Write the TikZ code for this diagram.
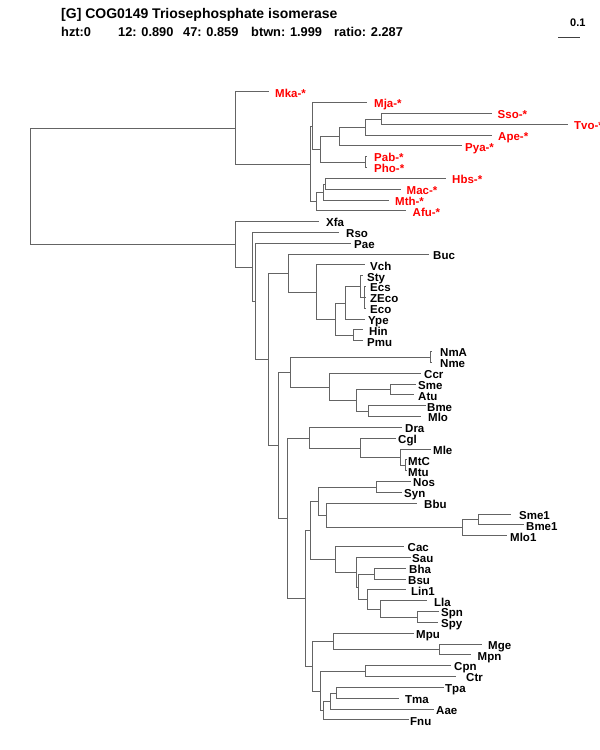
\documentclass[tikz,border=0pt]{standalone}
\usepackage{fontspec}
\setmainfont{Liberation Sans}
\usetikzlibrary{calc}
\definecolor{brc}{RGB}{100,100,100}
\definecolor{arc}{RGB}{255,0,0}
\tikzset{
  br/.style={draw=brc,line width=1.5pt,line cap=rect},
  lab/.style={font=\bfseries\fontsize{11.5}{12}\selectfont,inner sep=0pt,anchor=base west,text=black},
  labr/.style={lab,text=arc},
  hdr/.style={font=\bfseries\fontsize{14}{16}\selectfont,inner sep=0pt,anchor=base west},
  hdrs/.style={font=\bfseries\fontsize{12.8}{14}\selectfont,inner sep=0pt,anchor=base west}
}
% leaf: name, index, end x, text x, style, text
\newcommand\tleaf[6]{%
  \coordinate (#1) at ({(floor(#3)+0.5)*1pt},{-(floor(91.7+10.83*#2)+0.5)*1pt});
  \node[#5] (#1-t) at (#4pt,{-(91.7+10.83*#2+5.3)*1pt}) {#6};}
% inner node: name, x, first child, last child
\newcommand\tnode[4]{%
  \path let \p1=(#3),\p2=(#4) in coordinate (#1) at ({(floor(#2)+0.5)*1pt},{-(floor(-0.5*(\y1+\y2))+0.5)*1pt});
  \draw[br] (#1 |- #3) -- (#1 |- #4);
  \draw[br] (#1 |- #3) -- (#3);
  \draw[br] (#1 |- #4) -- (#4);}
\begin{document}
\begin{tikzpicture}
\fill[white] (0,0) rectangle (600pt,-750pt);
\useasboundingbox (0,0) rectangle (600pt,-750pt);
% header
\node[hdr] (title) at (61pt,-18pt) {[G] COG0149 Triosephosphate isomerase};
\node[hdrs] (s1) at (61pt,-36pt) {hzt:0};
\node[hdrs] (s2) at (118pt,-36pt) {12: 0.890};
\node[hdrs] (s3) at (183pt,-36pt) {47: 0.859};
\node[hdrs] (s4) at (251pt,-36pt) {btwn: 1.999};
\node[hdrs] (s5) at (334pt,-36pt) {ratio: 2.287};
\coordinate (sb1) at (558pt,-37.5pt);
\coordinate (sb2) at (580pt,-37.5pt);
\draw[line width=1.2pt,draw=black!75] (sb1) -- (sb2);
\node[font=\bfseries\fontsize{11}{12}\selectfont,inner sep=0pt,anchor=base west] (sbl) at (570pt,-26pt) {0.1};
% leaves
\tleaf{Mka}{0}{268.3}{275}{labr}{Mka-*}
\tleaf{Mja}{1}{366.7}{374}{labr}{Mja-*}
\tleaf{Sso}{2}{491.7}{497.5}{labr}{Sso-*}
\tleaf{Tvo}{3}{567.7}{574}{labr}{Tvo-*}
\tleaf{Ape}{4}{491.7}{498}{labr}{Ape-*}
\tleaf{Pya}{5}{461}{465}{labr}{Pya-*}
\tleaf{Pab}{6}{366.7}{374}{labr}{Pab-*}
\tleaf{Pho}{7}{366.7}{374}{labr}{Pho-*}
\tleaf{Hbs}{8}{445}{452}{labr}{Hbs-*}
\tleaf{Mac}{9}{400}{406.5}{labr}{Mac-*}
\tleaf{Mth}{10}{388.3}{395}{labr}{Mth-*}
\tleaf{Afu}{11}{405}{412.5}{labr}{Afu-*}
\tleaf{Xfa}{12}{318.3}{326}{lab}{Xfa}
\tleaf{Rso}{13}{338.3}{346}{lab}{Rso}
\tleaf{Pae}{14}{350}{354}{lab}{Pae}
\tleaf{Buc}{15}{428.3}{433}{lab}{Buc}
\tleaf{Vch}{16}{364.3}{370}{lab}{Vch}
\tleaf{Sty}{17}{362.5}{367}{lab}{Sty}
\tleaf{Ecs}{18}{365}{370}{lab}{Ecs}
\tleaf{ZEco}{19}{365}{370}{lab}{ZEco}
\tleaf{Eco}{20}{365}{370}{lab}{Eco}
\tleaf{Ype}{21}{364}{368}{lab}{Ype}
\tleaf{Hin}{22}{362.7}{369}{lab}{Hin}
\tleaf{Pmu}{23}{362.7}{367}{lab}{Pmu}
\tleaf{NmA}{24}{431.5}{440}{lab}{NmA}
\tleaf{Nme}{25}{431.5}{440}{lab}{Nme}
\tleaf{Ccr}{26}{420}{424}{lab}{Ccr}
\tleaf{Sme}{27}{415}{418}{lab}{Sme}
\tleaf{Atu}{28}{413.3}{418}{lab}{Atu}
\tleaf{Bme}{29}{425}{427}{lab}{Bme}
\tleaf{Mlo}{30}{420}{428}{lab}{Mlo}
\tleaf{Dra}{31}{401.7}{405}{lab}{Dra}
\tleaf{Cgl}{32}{395.5}{398}{lab}{Cgl}
\tleaf{Mle}{33}{430}{433}{lab}{Mle}
\tleaf{MtC}{34}{406.5}{408}{lab}{MtC}
\tleaf{Mtu}{35}{406.5}{408}{lab}{Mtu}
\tleaf{Nos}{36}{410}{413}{lab}{Nos}
\tleaf{Syn}{37}{401.7}{404}{lab}{Syn}
\tleaf{Bbu}{38}{416.7}{424}{lab}{Bbu}
\tleaf{Smeone}{39}{510.7}{519}{lab}{Sme1}
\tleaf{Bmeone}{40}{523.3}{526}{lab}{Bme1}
\tleaf{Mloone}{41}{506.7}{510}{lab}{Mlo1}
\tleaf{Cac}{42}{403.3}{407.5}{lab}{Cac}
\tleaf{Sau}{43}{410}{412}{lab}{Sau}
\tleaf{Bha}{44}{405}{409}{lab}{Bha}
\tleaf{Bsu}{45}{405}{408}{lab}{Bsu}
\tleaf{Linone}{46}{405}{411}{lab}{Lin1}
\tleaf{Lla}{47}{426.7}{434}{lab}{Lla}
\tleaf{Spn}{48}{438.3}{441}{lab}{Spn}
\tleaf{Spy}{49}{437}{441}{lab}{Spy}
\tleaf{Mpu}{50}{413.3}{416}{lab}{Mpu}
\tleaf{Mge}{51}{481.7}{488}{lab}{Mge}
\tleaf{Mpn}{52}{470}{477.5}{lab}{Mpn}
\tleaf{Cpn}{53}{450}{454}{lab}{Cpn}
\tleaf{Ctr}{54}{455}{466}{lab}{Ctr}
\tleaf{Tpa}{55}{443.3}{445}{lab}{Tpa}
\tleaf{Tma}{56}{398.3}{405}{lab}{Tma}
\tleaf{Aae}{57}{433.3}{436}{lab}{Aae}
\tleaf{Fnu}{58}{408.3}{410}{lab}{Fnu}
% archaea
\tnode{F}{381}{Sso}{Tvo}
\tnode{E}{365.7}{F}{Ape}
\tnode{D}{339}{E}{Pya}
\tnode{PP}{365.7}{Pab}{Pho}
\tnode{C}{320.7}{D}{PP}
\tnode{B}{312.7}{Mja}{C}
\tnode{I}{325.3}{Hbs}{Mac}
\tnode{H}{323.3}{I}{Mth}
\tnode{G}{316.7}{H}{Afu}
\tnode{A}{310.7}{B}{G}
\tnode{Arch}{235}{Mka}{A}
% bacteria
\tnode{R}{364}{Ecs}{Eco}
\draw[br] (R |- ZEco) -- (ZEco);
\tnode{Q}{360.5}{Sty}{R}
\tnode{P}{345.5}{Q}{Ype}
\tnode{HP}{353}{Hin}{Pmu}
\tnode{O}{335}{P}{HP}
\tnode{N}{316.7}{Vch}{O}
\tnode{M}{288.3}{Buc}{N}
\tnode{NN}{430.7}{NmA}{Nme}
\tnode{SA}{390.7}{Sme}{Atu}
\tnode{BM}{368.3}{Bme}{Mlo}
\tnode{V}{356.7}{SA}{BM}
\tnode{U}{329.3}{Ccr}{V}
\tnode{T}{290}{NN}{U}
\tnode{MMt}{405.3}{MtC}{Mtu}
\tnode{Z}{400.5}{Mle}{MMt}
\tnode{Y}{360}{Cgl}{Z}
\tnode{W}{309.3}{Dra}{Y}
\tnode{NS}{376.7}{Nos}{Syn}
\tnode{SB}{478.3}{Smeone}{Bmeone}
\tnode{SBM}{462.7}{SB}{Mloone}
\tnode{BB}{326.7}{Bbu}{SBM}
\tnode{NB}{318.3}{NS}{BB}
\tnode{SS}{417.3}{Spn}{Spy}
\tnode{LS}{380}{Lla}{SS}
\tnode{CGf}{367.3}{Linone}{LS}
\tnode{BBt}{374}{Bha}{Bsu}
\tnode{CGt}{358.3}{BBt}{CGf}
\tnode{CGs}{356}{Sau}{CGt}
\tnode{CG}{335}{Cac}{CGs}
\tnode{FN}{310.5}{NB}{CG}
\tnode{MG}{439.3}{Mge}{Mpn}
\tnode{MM}{333.3}{Mpu}{MG}
\tnode{CC}{365}{Cpn}{Ctr}
\tnode{TTt}{336}{Tpa}{Tma}
\tnode{TA}{330}{TTt}{Aae}
\tnode{TT}{323.3}{TA}{Fnu}
\tnode{LGt}{320}{CC}{TT}
\tnode{LG}{312.7}{MM}{LGt}
\tnode{XX}{305.5}{FN}{LG}
\tnode{X}{287.3}{W}{XX}
\tnode{S}{278}{T}{X}
\tnode{L}{268.3}{M}{S}
\tnode{K}{255}{Pae}{L}
\tnode{J}{252.7}{Rso}{K}
\tnode{Bact}{235}{Xfa}{J}
\tnode{root}{30}{Arch}{Bact}
\end{tikzpicture}
\end{document}
